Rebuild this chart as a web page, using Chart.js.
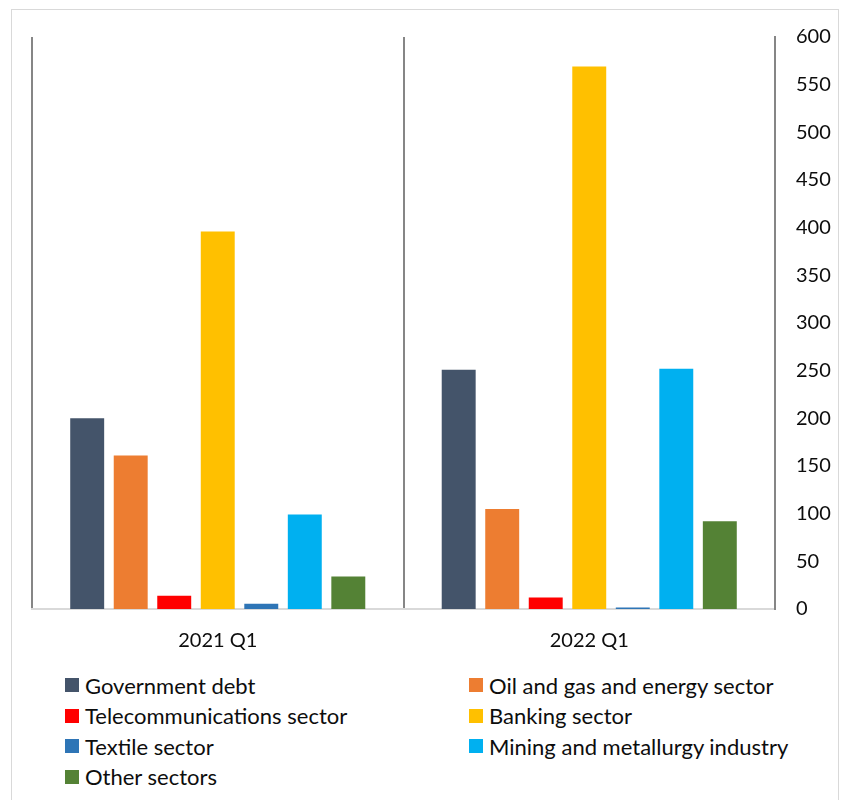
<!DOCTYPE html>
<html lang="en">
<head>
    <meta charset="UTF-8">
    <title>Sector breakdown - 2021 Q1 vs 2022 Q1</title>
    <script src="https://cdn.jsdelivr.net/npm/chart.js"></script>
    <style>
        body {
            margin: 0;
            background: #fff;
            font-family: Lato, "Liberation Sans", sans-serif;
        }

        .page {
            position: relative;
            width: 845px;
            height: 800px;
            overflow: hidden;
        }

        .frame {
            position: absolute;
            left: 11px;
            top: 9px;
            width: 826px;
            height: 820px;
            border: 1px solid #d9d9d9;
        }

        #sectorChart {
            position: absolute;
            left: 0;
            top: 0;
        }

        .legend {
            position: absolute;
            left: 65px;
            top: 670px;
            display: grid;
            grid-template-columns: 404px 360px;
            grid-auto-rows: 30.5px;
            font-size: 22px;
            color: #0d0d0d;
        }

        .legend-item {
            display: flex;
            align-items: center;
            white-space: nowrap;
        }

        .legend-box {
            width: 14px;
            height: 14px;
            margin-right: 6px;
            flex: none;
        }
    </style>
</head>
<body>
    <div class="page">
        <div class="frame"></div>
        <canvas id="sectorChart" width="845" height="665"></canvas>
        <div class="legend" id="legend"></div>
    </div>

    <script>
        const categories = ['2021 Q1', '2022 Q1'];

        const seriesNames = [
            'Government debt',
            'Oil and gas and energy sector',
            'Telecommunications sector',
            'Banking sector',
            'Textile sector',
            'Mining and metallurgy industry',
            'Other sectors'
        ];

        const governmentDebt = [200, 251];
        const oilGasEnergy = [161, 105];
        const telecommunications = [14, 12];
        const banking = [396, 569];
        const textile = [5.5, 1.5];
        const miningMetallurgy = [99, 252];
        const otherSectors = [34, 92];

        const yTicks = [0, 50, 100, 150, 200, 250, 300, 350, 400, 450, 500, 550, 600];

        const seriesValues = [governmentDebt, oilGasEnergy, telecommunications, banking, textile, miningMetallurgy, otherSectors];
        const seriesColors = ['#44546a', '#ed7d31', '#ff0000', '#ffc000', '#2e75b6', '#00b0f0', '#548235'];

        Chart.defaults.font.family = 'Lato, "Liberation Sans", sans-serif';
        Chart.defaults.color = '#0d0d0d';

        const sectorChart = new Chart(document.getElementById('sectorChart'), {
            type: 'bar',
            data: {
                labels: categories,
                datasets: seriesNames.map((name, i) => ({
                    label: name,
                    data: seriesValues[i],
                    backgroundColor: seriesColors[i],
                    borderWidth: 0,
                    barPercentage: 0.78,
                    categoryPercentage: 0.82
                }))
            },
            options: {
                responsive: false,
                animation: false,
                layout: {
                    padding: { left: 32, right: 10, top: 37, bottom: 6 }
                },
                plugins: {
                    legend: { display: false },
                    tooltip: { enabled: false }
                },
                scales: {
                    x: {
                        offset: true,
                        grid: {
                            offset: true,
                            color: '#868686',
                            lineWidth: 2,
                            drawTicks: false
                        },
                        border: {
                            color: '#d9d9d9',
                            width: 2
                        },
                        ticks: {
                            font: { size: 20 },
                            padding: 20
                        },
                        afterFit: scale => { scale.height = 50; }
                    },
                    y: {
                        position: 'right',
                        min: 0,
                        max: 600,
                        afterBuildTicks: scale => {
                            scale.ticks = yTicks.map(v => ({ value: v }));
                        },
                        grid: {
                            display: false,
                            drawTicks: false
                        },
                        border: {
                            color: '#868686',
                            width: 2
                        },
                        ticks: {
                            font: { size: 20 },
                            padding: 21
                        },
                        afterFit: scale => { scale.width = 60; }
                    }
                }
            }
        });

        // legend laid out in two columns, row by row
        const legend = document.getElementById('legend');
        seriesNames.forEach((name, i) => {
            const item = document.createElement('div');
            item.className = 'legend-item';
            const box = document.createElement('span');
            box.className = 'legend-box';
            box.style.background = seriesColors[i];
            item.appendChild(box);
            item.appendChild(document.createTextNode(name));
            legend.appendChild(item);
        });
    </script>
</body>
</html>
